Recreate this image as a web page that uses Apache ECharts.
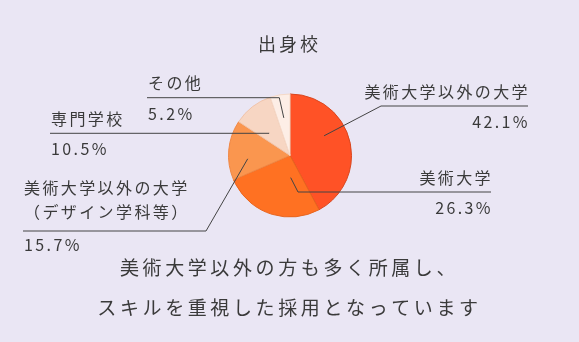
<!DOCTYPE html>
<html>
<head>
<meta charset="utf-8">
<script src="https://cdn.jsdelivr.net/npm/echarts@6/dist/echarts.min.js"></script>
<style>
  html, body { margin: 0; padding: 0; background: #EAE6F4; }
  #chart { width: 579px; height: 342px; }
</style>
</head>
<body>
<div id="chart"></div>
<script>
// ---- data ----
const TITLE = '出身校';
const CATEGORIES = ['美術大学以外の大学', '美術大学', '美術大学以外の大学\n（デザイン学科等）', '専門学校', 'その他'];
const VALUES = [42.1, 26.3, 15.7, 10.5, 5.2];
const NOTE_LINES = ['美術大学以外の方も多く所属し、', 'スキルを重視した採用となっています'];

// ---- styles ----
const COLORS = ['#FF5226', '#FF7122', '#FA964F', '#F7D6C3', '#FDEEE6'];
const BORDERS = ['#D9461E', '#E8651E', '#F08744', '#F1C4AA', '#F5D9C8'];
const FONT = "'Noto Sans CJK JP', 'Noto Sans CJK SC', sans-serif";
const TEXT = '#3a3a3a';

// label placement (annotation positions)
const LABEL_LAYOUT = [
  { side: 'right', endX: 528, elbowX: 381, lineY: 106, k: 0.64, da: -16, top: -29, nLH: 29, vLH: 32 },
  { side: 'right', endX: 491, elbowX: 298, lineY: 192, k: 0.36, da: -21, top: -29, nLH: 29, vLH: 32 },
  { side: 'left', endX: 23, elbowX: 206, lineY: 231, k: 0.69, da: -9.5, top: -55, nLH: 24, vLH: 42 },
  { side: 'left', endX: 50, elbowX: 269, lineY: 133.3, k: 0.5, da: -5, top: -29, nLH: 29, vLH: 32 },
  { side: 'left', endX: 147, elbowX: 279.3, lineY: 97.7, k: 0.62, da: 0, top: -29, nLH: 29, vLH: 32 }
];

// letter spacing for canvas text (by font size)
(function () {
  const P = CanvasRenderingContext2D.prototype;
  const of = P.fillText, om = P.measureText;
  function ls(ctx) {
    const m = /(\d+(?:\.\d+)?)px/.exec(ctx.font);
    const s = m ? parseFloat(m[1]) : 12;
    const sp = s >= 19 ? s * 0.19 : (s >= 18 ? s * 0.17 : s * 0.15);
    try { ctx.letterSpacing = sp.toFixed(2) + 'px'; } catch (e) {}
  }
  P.fillText = function () { ls(this); return of.apply(this, arguments); };
  P.measureText = function () { ls(this); return om.apply(this, arguments); };
})();

const chart = echarts.init(document.getElementById('chart'), null, { renderer: 'canvas' });

const pieData = VALUES.map((v, i) => ({
  value: v,
  name: CATEGORIES[i],
  itemStyle: { color: COLORS[i], borderColor: BORDERS[i], borderWidth: 1 }
}));

const labelData = VALUES.map((v, i) => {
  const L = LABEL_LAYOUT[i];
  const al = L.side === 'right' ? 'right' : 'left';
  const lines = CATEGORIES[i].split('\n');
  return {
    value: v,
    name: CATEGORIES[i],
    label: {
      formatter: lines.map(t => '{n|' + t + '}').join('\n') + '\n{v|' + v.toFixed(1) + '%}',
      rich: {
        n: { fontSize: 16, lineHeight: L.nLH, color: TEXT, fontFamily: FONT, align: al },
        v: { fontSize: 16, lineHeight: L.vLH, color: TEXT, fontFamily: FONT, align: al }
      }
    }
  };
});

const CENTER = ['50.09%', '45.47%'];
const RADIUS = 61.5;

chart.setOption({
  backgroundColor: '#EAE6F4',
  animation: false,
  title: [
    {
      text: TITLE, left: 'center', top: 34, padding: 0,
      textStyle: { fontSize: 18, fontWeight: 'normal', color: TEXT, fontFamily: FONT }
    },
    {
      text: NOTE_LINES.join('\n'), left: 'center', top: 248, padding: 0,
      textStyle: { fontSize: 19, lineHeight: 40, fontWeight: 'normal', color: TEXT, fontFamily: FONT }
    }
  ],
  series: [
    {
      type: 'pie',
      z: 2,
      center: CENTER,
      radius: RADIUS,
      startAngle: 90,
      clockwise: true,
      silent: true,
      label: { show: false },
      labelLine: { show: false },
      emphasis: { disabled: true },
      data: pieData
    },
    {
      type: 'pie',
      z: 3,
      center: CENTER,
      radius: RADIUS,
      startAngle: 90,
      clockwise: true,
      silent: true,
      avoidLabelOverlap: false,
      itemStyle: { color: 'rgba(0,0,0,0)', borderWidth: 0 },
      label: { show: true, position: 'outside', fontFamily: FONT, color: TEXT },
      labelLine: { show: true, length: 5, length2: 5, smooth: false, lineStyle: { color: '#444', width: 1 } },
      emphasis: { disabled: true },
      labelLayout: function (p) {
        const L = LABEL_LAYOUT[p.dataIndex];
        let p0;
        try {
          const lay = chart.getModel().getSeriesByIndex(1).getData().getItemLayout(p.dataIndex);
          const mid = (lay.startAngle + lay.endAngle) / 2 + L.da * Math.PI / 180;
          p0 = [lay.cx + Math.cos(mid) * lay.r * L.k, lay.cy + Math.sin(mid) * lay.r * L.k];
        } catch (e) {
          p0 = p.labelLinePoints ? p.labelLinePoints[0] : [L.elbowX, L.lineY];
        }
        const right = L.side === 'right';
        return {
          x: right ? L.endX + 2 : L.endX + 1,
          y: L.lineY + L.top,
          align: right ? 'right' : 'left',
          verticalAlign: 'top',
          labelLinePoints: [p0, [L.elbowX, L.lineY], [L.endX, L.lineY]]
        };
      },
      data: labelData
    }
  ]
});
</script>
</body>
</html>
